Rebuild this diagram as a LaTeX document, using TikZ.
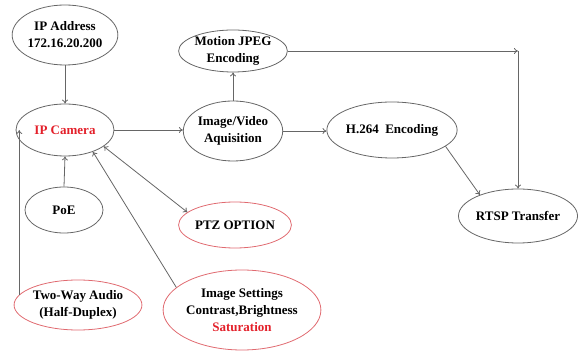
\documentclass[tikz,border=0pt]{standalone}
\usepackage{fontspec}
\setmainfont{Liberation Serif}
\usetikzlibrary{arrows.meta,shapes.geometric}
\definecolor{edge}{HTML}{666666}
\definecolor{redline}{HTML}{E06A70}
\definecolor{redtext}{HTML}{E3202A}
\tikzset{
  bub/.style={ellipse,draw=edge,line width=0.8pt,inner sep=0pt,align=center,
    font=\fontsize{13}{17}\selectfont\bfseries},
  redbub/.style={bub,draw=redline},
  conn/.style={draw=edge,line width=0.8pt,-{To[length=4pt,width=6pt]}},
}
\begin{document}
\begin{tikzpicture}[x=1pt,y=-1pt]
\useasboundingbox (0,0) rectangle (578,352);
\node[bub,minimum width=100pt,minimum height=60pt] (ipaddr) at (65,35) {IP Address\\172.16.20.200};
\node[bub,minimum width=106pt,minimum height=42pt] (mjpeg) at (233,51) {Motion JPEG\\Encoding};
\node[bub,minimum width=98pt,minimum height=52pt] (cam) at (65,130) {\textcolor{redtext}{IP Camera}};
\node[bub,minimum width=98pt,minimum height=60pt] (img) at (233,131) {Image/Video\\Aquisition};
\node[bub,minimum width=130pt,minimum height=56pt] (h264) at (392,130) {H.264\ \ Encoding};
\node[bub,minimum width=116pt,minimum height=54pt] (rtsp) at (518,216) {RTSP Transfer};
\node[bub,minimum width=78pt,minimum height=46pt] (poe) at (64,210) {PoE};
\node[redbub,minimum width=104pt,minimum height=46pt] (ptz) at (235,225) {PTZ OPTION};
\node[redbub,minimum width=124pt,minimum height=50pt] (audio) at (78,305) {Two-Way Audio\\(Half-Duplex)};
\node[redbub,minimum width=148pt,minimum height=80pt] (settings) at (242,310) {Image Settings\\Contrast,Brightness\\\textcolor{redtext}{Saturation}};
\coordinate (corner) at (rtsp.north |- mjpeg.east);
\draw[conn] (ipaddr.south) -- (cam.north);
\draw[conn] (cam.east) -- (cam.east -| img.west);
\draw[conn] (img.north) -- (mjpeg.south);
\draw[conn] (img.east) -- (img.east -| h264.west);
\draw[conn] (mjpeg.east) -- (corner);
\draw[conn] (corner) -- (rtsp.north);
\draw[conn] (h264.-17) -- (rtsp.151);
\draw[conn] (poe.north) -- (cam.south);
\draw[conn,{To[length=4pt,width=6pt]}-{To[length=4pt,width=6pt]}] (cam.-23) -- (ptz.165);
\draw[conn] (settings.161) -- (cam.-38);
\draw[conn] (audio.170) -- (audio.170 |- cam.west);
\end{tikzpicture}
\end{document}
